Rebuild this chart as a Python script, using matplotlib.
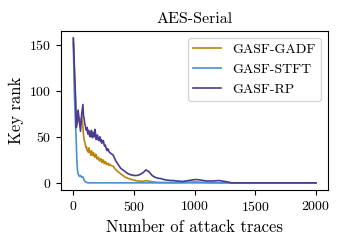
import matplotlib
matplotlib.use('Agg')
import matplotlib.pyplot as plt

plt.rcParams['font.family'] = 'serif'
plt.rcParams['font.serif'] = ['cmr10', 'DejaVu Serif']
plt.rcParams['mathtext.fontset'] = 'cm'
plt.rcParams['axes.formatter.use_mathtext'] = True

# GASF-GADF
x_gadf = [1, 10, 20, 25, 30, 40, 50, 60, 70, 80, 85, 90, 95, 100, 105, 110, 115,
          120, 125, 130, 135, 140, 145, 150, 155, 160, 165, 170, 175, 180, 185,
          190, 195, 200, 205, 210, 215, 220, 225, 230, 235, 240, 245, 250, 255,
          260, 265, 270, 275, 280, 285, 290, 295, 300,
          310, 320, 330, 340, 350, 360, 370, 380, 390, 400, 410, 420, 430, 440, 450,
          460, 470, 480, 490, 500, 525, 550, 575, 600, 625, 650, 675, 700, 750, 800,
          850, 900, 950, 1000, 1050, 1100, 1150, 1200, 2000]
y_gadf = [157, 118, 82, 66, 64, 67, 70, 63, 72, 60, 52, 47, 44, 42, 38, 39, 35,
          36, 33, 38, 34, 33, 30, 35, 31, 30, 33, 32, 28, 28, 31,
          30, 26, 26, 28, 27, 24, 24, 26, 26, 22, 23, 25, 24, 21,
          21, 23, 22, 20, 20, 21, 21, 19, 20,
          19, 18.5, 18, 16, 14.5, 13, 12, 11, 10, 9, 8, 7, 6, 5.5, 5,
          4.5, 4, 3.6, 3.2, 3, 2.2, 1.8, 1.6, 2.5, 1.8, 1.2, 0.8, 0.5, 0.4, 0.3,
          0.3, 0.4, 0.8, 1, 0.7, 0.4, 0.2, 0, 0]

# GASF-STFT
x_stft = [1, 10, 20, 25, 30, 35, 40, 50, 60, 70, 80, 90, 100, 120, 2000]
y_stft = [152, 95, 60, 45, 25, 14, 10, 7, 8, 6, 6.5, 3, 1, 0, 0]

# GASF-RP
x_rp = [1, 10, 20, 25, 30, 40, 50, 60, 70, 80, 85, 90, 95, 100, 105, 110, 115,
        120, 125, 130, 135, 140, 145, 150, 155, 160, 165, 170, 175, 180, 185,
        190, 195, 200, 205, 210, 215, 220, 225, 230, 235, 240, 245, 250, 255,
        260, 265, 270, 275, 280, 285, 290, 295, 300,
        310, 320, 330, 340, 350, 360, 370, 380, 390, 400, 410, 420, 430, 440, 450,
        460, 470, 480, 490, 500, 525, 550, 575, 600, 625, 650, 675, 700, 725, 750,
        775, 800, 825, 850, 875, 900, 925, 950, 975, 1000, 1025, 1050, 1075, 1100,
        1150, 1200, 1250, 1290, 1300, 2000]
y_rp = [157, 125, 90, 60, 63, 79, 68, 56, 75, 85, 72, 70, 64, 62, 58, 57, 60,
        53, 57, 56, 51, 50, 54, 57, 50, 49, 55, 54, 50, 58, 52,
        47, 51, 52, 47, 46, 49, 50, 45, 47, 43, 44, 46, 45, 41,
        40, 41, 38, 36, 35, 37, 36, 34, 33,
        32, 31, 30, 27, 24, 22, 20, 18, 16, 15, 14, 13, 12, 11, 10,
        9.5, 9, 8.5, 8.5, 8, 8, 9, 11, 14, 12, 8, 6, 5, 4.5, 3.5,
        3, 2.5, 2.5, 2, 1.8, 1.5, 2, 2.5, 3, 3.5, 3.5, 3, 2.5, 2,
        2, 2.5, 1.5, 0.5, 0, 0]

fig = plt.figure(figsize=(3.4, 2.4), dpi=100)
ax = fig.add_axes([0.18, 0.208, 0.785, 0.663])

ax.plot(x_gadf, y_gadf, color='#b8860b', lw=1.2, label='GASF-GADF')
ax.plot(x_stft, y_stft, color='#4a8fd0', lw=1.2, label='GASF-STFT')
ax.plot(x_rp, y_rp, color='#4b3a8f', lw=1.2, label='GASF-RP')

ax.set_xticks([0, 500, 1000, 1500, 2000])
ax.set_yticks([0, 50, 100, 150])
ax.tick_params(labelsize=10)
ax.set_title('AES-Serial', fontsize=11.5)
ax.set_xlabel('Number of attack traces', fontsize=12)
ax.set_ylabel('Key rank', fontsize=12)
ax.legend(loc='upper right', fontsize=10)

fig.savefig('out.png', dpi=100)
